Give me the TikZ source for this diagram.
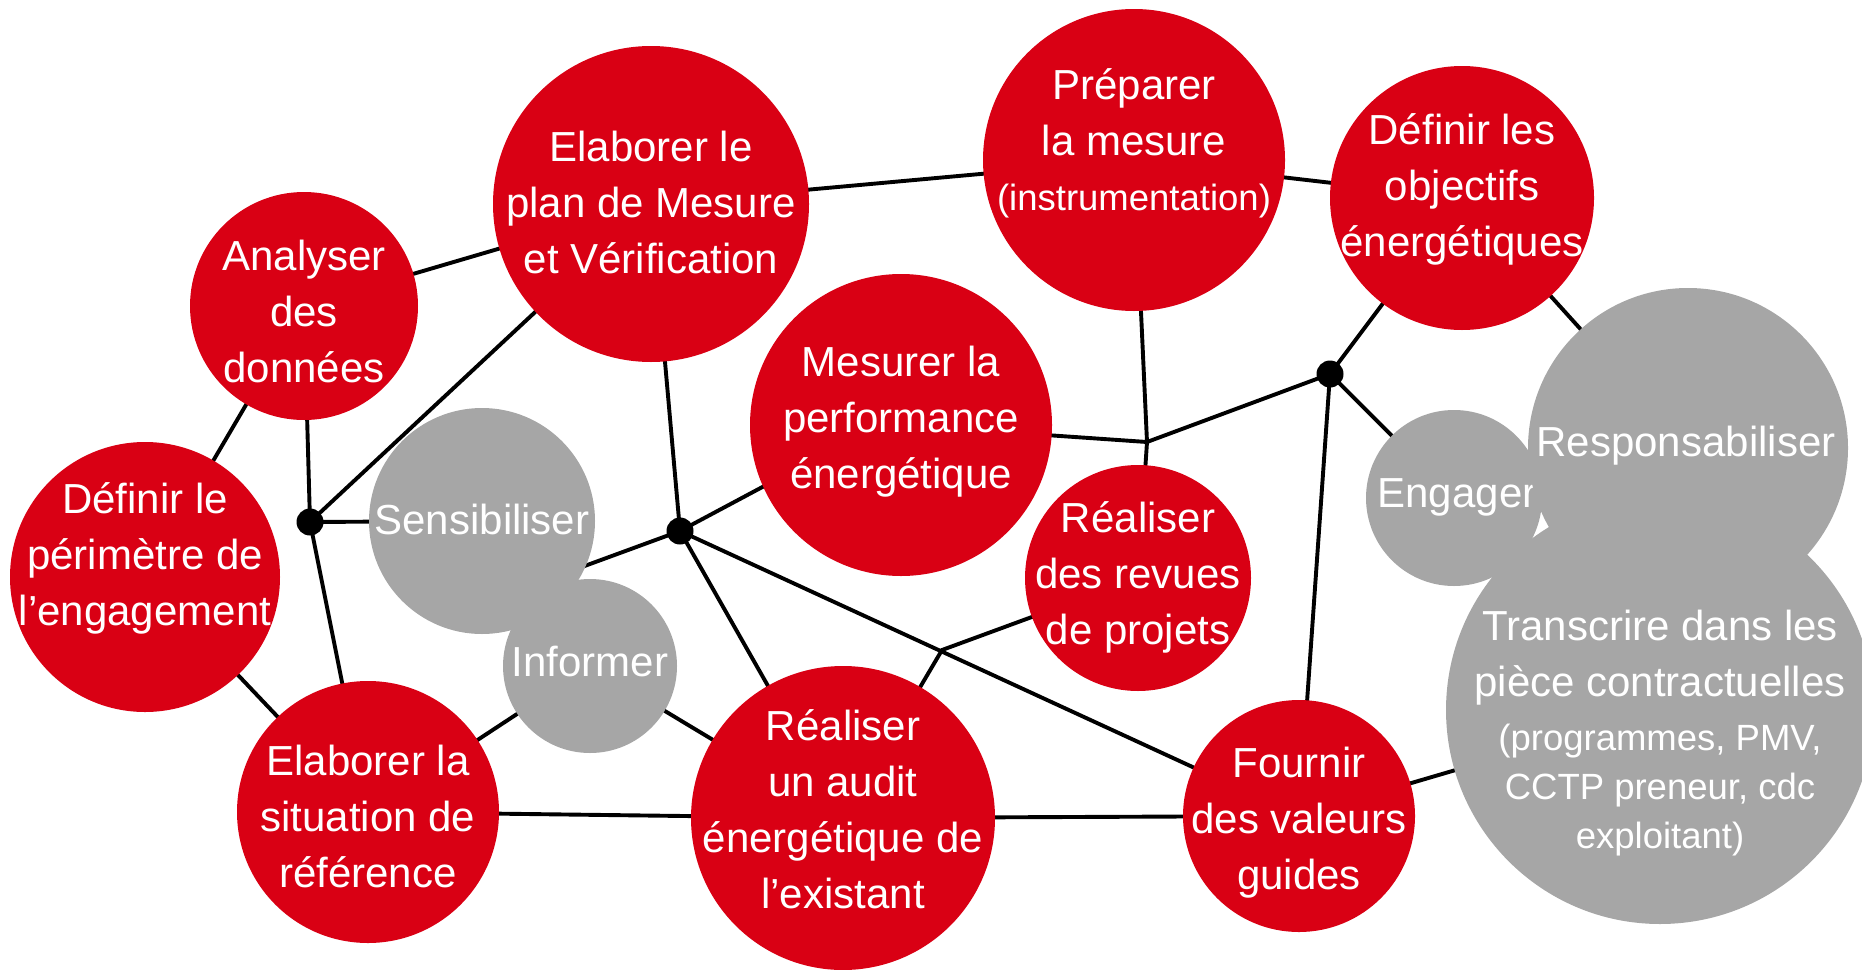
\documentclass[tikz,border=0pt]{standalone}
\usepackage{fontspec}
\setmainfont{Liberation Sans}
\usetikzlibrary{backgrounds,calc}
\definecolor{rd}{HTML}{D90014}
\definecolor{gr}{HTML}{A6A6A6}
\begin{document}
\begin{tikzpicture}[x=1pt,y=-1pt,
  conn/.style={line width=3.9pt, black},
  bub/.style={circle, inner sep=0pt, draw=none},
  redbub/.style={bub, fill=rd},
  greybub/.style={bub, fill=gr},
  lbl/.style={text=white, align=center, inner sep=0pt, font=\fontsize{42}{56}\selectfont},
  smalllbl/.style={text=white, align=center, inner sep=0pt, font=\fontsize{36.5}{49}\selectfont},
  dotn/.style={circle, fill=black, inner sep=0pt, minimum size=27pt}]
\useasboundingbox (0,0) rectangle (1862,969);

% red and grey bubbles
\node[redbub, minimum size=228pt] (ana) at (304,306) {};
\node[lbl] (ana-t) at (304,311) {Analyser\\des\\données};
\node[redbub, minimum size=316pt] (plan) at (651,204) {};
\node[lbl] (plan-t) at (651,202) {Elaborer le\\plan de Mesure\\et Vérification};
\node[redbub, minimum size=302pt] (prep) at (1134,160) {};
\node[lbl] (prep-t) at (1134,112) {Préparer\\la mesure};
\node[smalllbl] (prep-t2) at (1134,201) {(instrumentation)};
\node[redbub, minimum size=264pt] (obj) at (1462,198) {};
\node[lbl] (obj-t) at (1462,189) {Définir les\\objectifs\\énergétiques};
\node[redbub, minimum size=302pt] (mes) at (901,425) {};
\node[lbl] (mes-t) at (901,422) {Mesurer la\\performance\\énergétique};
\node[redbub, minimum size=270pt] (per) at (145,577) {};
\node[lbl] (per-t) at (145,558) {Définir le\\périmètre de\\l’engagement};
\node[greybub, minimum size=226pt] (sens) at (482,521) {};
\node[lbl] (sens-t) at (482,519) {Sensibiliser};
\node[greybub, minimum size=174pt] (inf) at (590,666) {};
\node[lbl] (inf-t) at (590,661) {Informer};
\node[redbub, minimum size=262pt] (sit) at (368,812) {};
\node[lbl] (sit-t) at (368,816) {Elaborer la\\situation de\\référence};
\node[redbub, minimum size=304pt] (aud) at (843,818) {};
\node[lbl] (aud-t) at (843,809) {Réaliser\\un audit\\énergétique de\\l’existant};
\node[redbub, minimum size=226pt] (rev) at (1138,578) {};
\node[lbl] (rev-t) at (1138,577) {Réaliser\\des revues\\de projets};
\node[redbub, minimum size=232pt] (fou) at (1299,816) {};
\node[lbl] (fou-t) at (1299,823) {Fournir\\des valeurs\\guides};
\node[greybub, minimum size=176pt] (eng) at (1454,498) {};
\node[lbl] (eng-t) at (1457,497) {Engager};
\node[greybub, minimum size=320pt] (resp) at (1688,448) {};
\node[lbl] (resp-t) at (1686,446) {Responsabiliser};
\node[greybub, minimum size=428pt] (tra) at (1660,710) {};
\node[lbl] (tra-t) at (1660,658) {Transcrire dans les\\pièce contractuelles};
\node[smalllbl] (tra-t2) at (1660,790) {(programmes, PMV,\\CCTP preneur, cdc\\exploitant)};

% junctions
\node[dotn] (j1) at (310,522) {};
\node[dotn] (j2) at (680,531) {};
\node[dotn] (j3) at (1330,374) {};
\coordinate (k1) at (1147,442);
\coordinate (k2) at (942,650);
\coordinate (s1) at (560,575);

\begin{scope}[on background layer]
\draw[conn] (ana.center) -- (plan.center);
\draw[conn] (ana.center) -- (per.center);
\draw[conn] (ana.center) -- (j1.center);
\draw[conn] (j1.center) -- (plan.center);
\draw[conn] (j1.center) -- (sens.center);
\draw[conn] (j1.center) -- (sit.center);
\draw[conn] (per.center) -- (sit.center);
\draw[conn] (sit.center) -- (inf.center);
\draw[conn] (inf.center) -- (aud.center);
\draw[conn] (sit.center) -- (aud.center);
\draw[conn] (aud.center) -- (fou.center);
\draw[conn] (fou.center) -- (tra.center);
\draw[conn] (j2.center) -- (plan.center);
\draw[conn] (j2.center) -- (s1);
\draw[conn] (j2.center) -- ($(mes.center)+(0,-12)$);
\draw[conn] (j2.center) -- (aud.center);
\draw[conn] (j2.center) -- (fou.center);
\draw[conn] (plan.center) -- (prep.center);
\draw[conn] (prep.center) -- (obj.center);
\draw[conn] (prep.center) -- (k1) -- (rev.center);
\draw[conn] (mes.center) -- (k1) -- (j3.center);
\draw[conn] (j3.center) -- (obj.center);
\draw[conn] (j3.center) -- (eng.center);
\draw[conn] (j3.center) -- (fou.center);
\draw[conn] (obj.center) -- (resp.center);
\draw[conn] (aud.center) -- (k2) -- (rev.center);
\end{scope}
\end{tikzpicture}
\end{document}
